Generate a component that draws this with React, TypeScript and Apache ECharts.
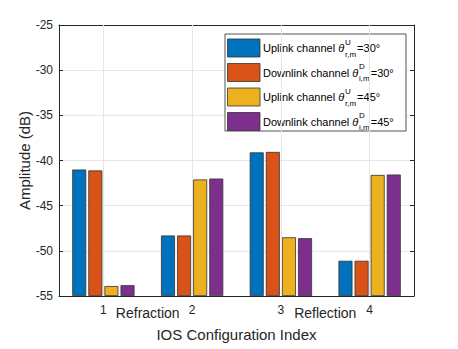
import React, { useEffect, useRef } from "react";
import * as echarts from "echarts";

const categories = ["1", "2", "3", "4"];
const uplink30 = [-41.0, -48.3, -39.1, -51.1];
const downlink30 = [-41.1, -48.3, -39.05, -51.1];
const uplink45 = [-53.9, -42.1, -48.5, -41.6];
const downlink45 = [-53.8, -42.0, -48.6, -41.55];
const seriesValues = [uplink30, downlink30, uplink45, downlink45];
const seriesNames = [
  "Uplink channel θ^U_r,m=30°",
  "Downlink channel θ^D_i,m=30°",
  "Uplink channel θ^U_r,m=45°",
  "Downlink channel θ^D_i,m=45°",
];
const legendMain = ["Uplink channel ", "Downlink channel ", "Uplink channel ", "Downlink channel "];
const legendSup = ["U", "D", "U", "D"];
const legendSub = ["r,m", "i,m", "r,m", "i,m"];
const legendTail = ["=30°", "=30°", "=45°", "=45°"];
const groupLabels = ["Refraction", "Reflection"];
const colors = ["#0072BD", "#D95319", "#EDB120", "#7E2F8E"];
const Y_MIN = -55;
const Y_MAX = -25;
const Y_STEP = 5;

const FONT = '"Liberation Sans", Arial, Helvetica, sans-serif';
const TXT = "#262626";

function measure(text: string, size: number, italic = false): number {
  const c = document.createElement("canvas");
  const ctx = c.getContext("2d");
  if (!ctx) return text.length * size * 0.55;
  ctx.font = `${italic ? "italic " : ""}${size}px ${FONT}`;
  return ctx.measureText(text).width;
}

export default function App() {
  const ref = useRef<HTMLDivElement>(null);
  useEffect(() => {
    if (!ref.current) return;
    const chart = echarts.init(ref.current, undefined, { renderer: "svg" });
    const series: any[] = [];
    seriesValues.forEach((vals, i) => {
      series.push({
        type: "bar",
        stack: "s" + i,
        stackStrategy: "all",
        silent: true,
        barWidth: 14,
        barGap: "15%",
        data: vals.map(() => Y_MIN),
        itemStyle: { color: "transparent", borderWidth: 0 },
      });
      series.push({
        name: seriesNames[i],
        type: "bar",
        stack: "s" + i,
        stackStrategy: "all",
        barWidth: 14,
        barGap: "15%",
        data: vals.map((v) => v - Y_MIN),
        itemStyle: { color: colors[i], borderColor: "#333333", borderWidth: 0.8 },
      });
    });
    series.push({
      type: "line",
      data: [],
      z: 1,
      silent: true,
      markLine: {
        silent: true,
        symbol: "none",
        label: { show: false },
        lineStyle: { color: "#e6e6e6", type: "solid", width: 1 },
        data: categories.map((_, i) => ({ xAxis: i })),
      },
    });

    const axisLine = { show: true, lineStyle: { color: TXT, width: 1 } };
    const option: any = {
      animation: false,
      textStyle: { fontFamily: FONT },
      grid: { left: 59, right: 44, top: 25, bottom: 53 },
      xAxis: [
        {
          type: "category",
          data: categories,
          position: "bottom",
          axisLine,
          axisTick: { show: true, inside: true, alignWithLabel: true, length: 4, lineStyle: { color: TXT } },
          axisLabel: { color: TXT, fontSize: 12, margin: 8, fontFamily: FONT },
          splitLine: { show: false },
          name: "IOS Configuration Index",
          nameLocation: "middle",
          nameGap: 31,
          nameMoveOverlap: false,
          nameTextStyle: { color: TXT, fontSize: 15, fontFamily: FONT },
        },
        {
          type: "category",
          data: categories,
          position: "top",
          axisLine,
          axisTick: { show: true, inside: true, alignWithLabel: true, length: 4, lineStyle: { color: TXT } },
          axisLabel: { show: false },
          splitLine: { show: false },
        },
      ],
      yAxis: [
        {
          type: "value",
          min: Y_MIN,
          max: Y_MAX,
          interval: Y_STEP,
          position: "left",
          axisLine,
          axisTick: { show: true, inside: true, length: 4, lineStyle: { color: TXT } },
          axisLabel: { color: TXT, fontSize: 12, margin: 6, fontFamily: FONT },
          splitLine: { show: true, lineStyle: { color: "#e6e6e6", width: 1 } },
          name: "Amplitude (dB)",
          nameLocation: "middle",
          nameGap: 27,
          nameMoveOverlap: false,
          nameTextStyle: { color: TXT, fontSize: 15, fontFamily: FONT },
        },
        {
          type: "value",
          min: Y_MIN,
          max: Y_MAX,
          interval: Y_STEP,
          position: "right",
          axisLine,
          axisTick: { show: true, inside: true, length: 4, lineStyle: { color: TXT } },
          axisLabel: { show: false },
          splitLine: { show: false },
        },
      ],
      series,
    };
    chart.setOption(option);

    // annotations between category ticks
    const px = (i: number) => chart.convertToPixel({ xAxisIndex: 0 }, i) as number;
    const annoX = [(px(0) + px(1)) / 2, (px(2) + px(3)) / 2];
    const baseY = chart.convertToPixel({ yAxisIndex: 0 }, Y_MIN) as number;

    const graphics: any[] = groupLabels.map((t, i) => ({
      type: "text",
      x: annoX[i],
      y: baseY + 17,
      z: 50,
      style: { text: t, fill: TXT, fontSize: 14, fontFamily: FONT, align: "center", verticalAlign: "middle" },
    }));

    // legend
    const lx = 225, ly = 34, lw = 181, lh = 97;
    const legendChildren: any[] = [
      { type: "rect", shape: { x: lx, y: ly, width: lw, height: lh }, style: { fill: "#ffffff", stroke: TXT, lineWidth: 0.8 } },
    ];
    seriesNames.forEach((_, i) => {
      const cy = 48 + i * 24.5;
      legendChildren.push({
        type: "rect",
        shape: { x: 227.5, y: cy - 9, width: 32.5, height: 18 },
        style: { fill: colors[i], stroke: "#333333", lineWidth: 0.8 },
      });
      const tx = 263;
      legendChildren.push({
        type: "text", x: tx, y: cy,
        style: { text: legendMain[i], fill: "#000", fontSize: 11, fontFamily: FONT, align: "left", verticalAlign: "middle" },
      });
      const thX = tx + measure(legendMain[i], 11);
      legendChildren.push({
        type: "text", x: thX, y: cy,
        style: { text: "θ", fill: "#000", fontSize: 11, fontStyle: "italic", fontFamily: FONT, align: "left", verticalAlign: "middle" },
      });
      const ssX = thX + measure("θ", 11, true) + 0.8;
      legendChildren.push({
        type: "text", x: ssX, y: cy - 6,
        style: { text: legendSup[i], fill: "#000", fontSize: 8, fontFamily: FONT, align: "left", verticalAlign: "middle" },
      });
      legendChildren.push({
        type: "text", x: ssX, y: cy + 6,
        style: { text: legendSub[i], fill: "#000", fontSize: 8, fontFamily: FONT, align: "left", verticalAlign: "middle" },
      });
      const tailX = ssX + Math.max(measure(legendSup[i], 8), measure(legendSub[i], 8)) + 1;
      legendChildren.push({
        type: "text", x: tailX, y: cy,
        style: { text: legendTail[i], fill: "#000", fontSize: 11, fontFamily: FONT, align: "left", verticalAlign: "middle" },
      });
    });
    graphics.push({ type: "group", z: 100, children: legendChildren });

    chart.setOption({ graphic: graphics });
    return () => chart.dispose();
  }, []);
  return (
    <div
      ref={ref}
      style={{ position: "fixed", left: 0, top: 0, width: 458, height: 349, background: "#ffffff" }}
    />
  );
}
